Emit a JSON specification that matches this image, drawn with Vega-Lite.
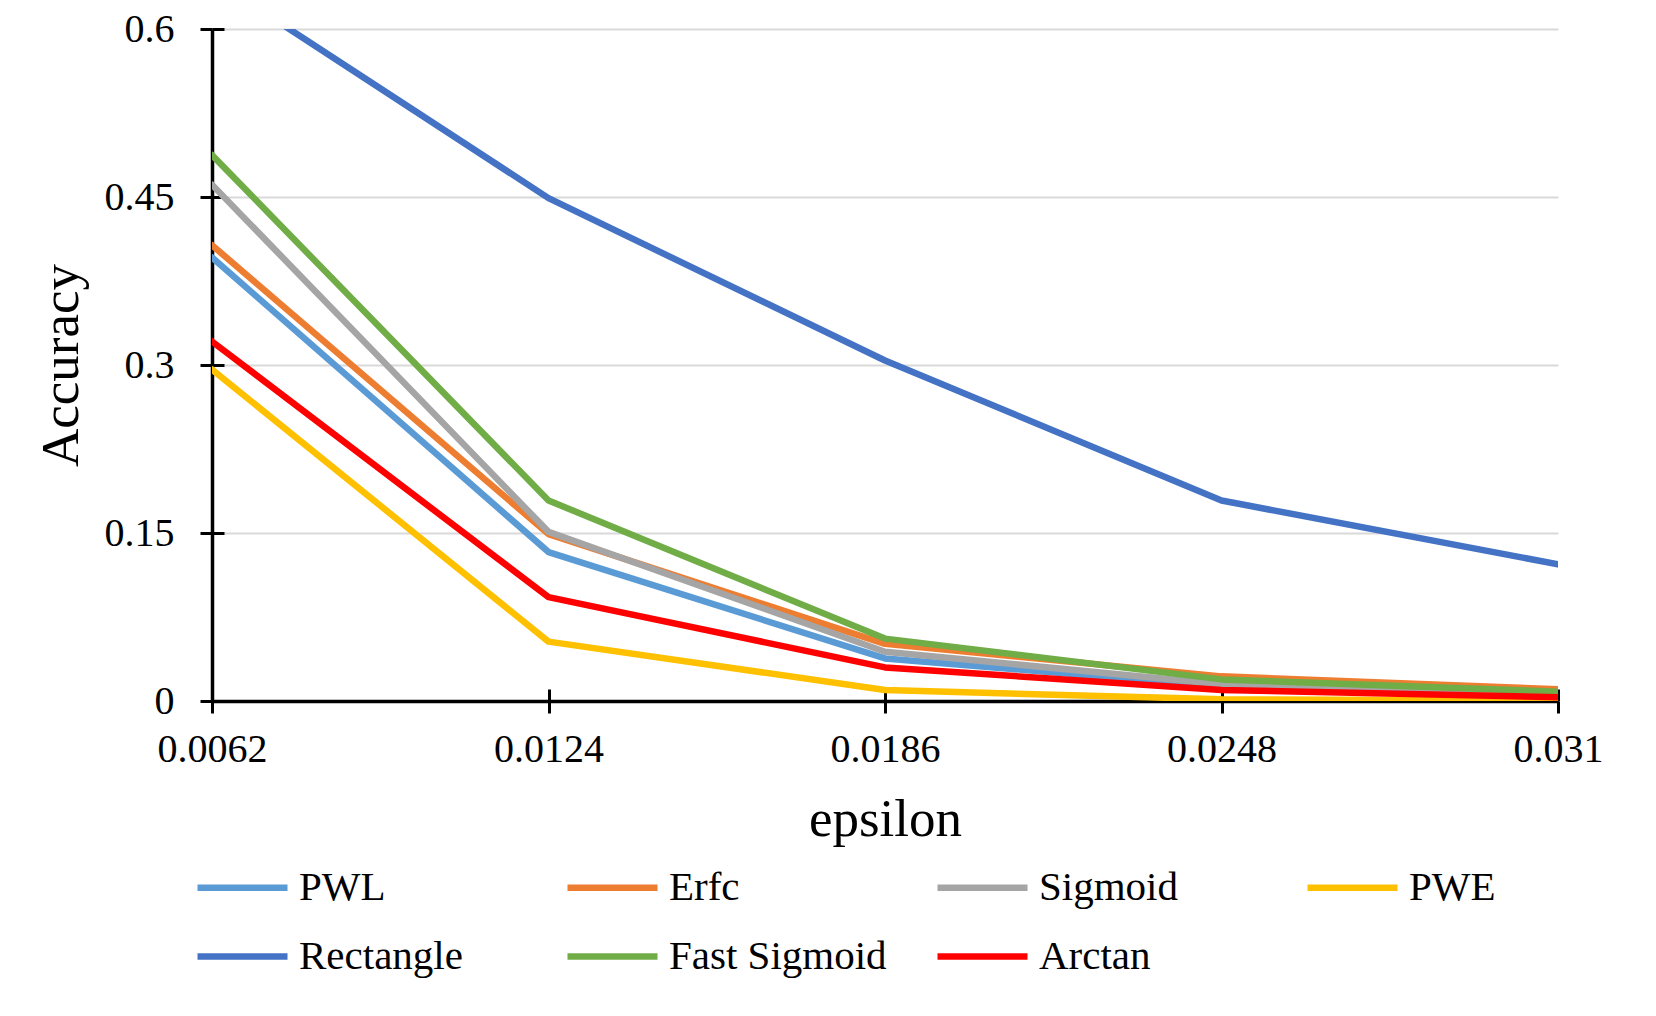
{
  "$schema": "https://vega.github.io/schema/vega-lite/v6.json",
  "width": 1346,
  "height": 672,
  "autosize": "none",
  "padding": {"left": 212, "top": 29, "right": 98, "bottom": 315},
  "background": "white",
  "config": {"font": "Liberation Serif", "view": {"stroke": null}},
  "data": {
    "values": [
      {"epsilon": 0.0062, "series": "PWL", "accuracy": 0.396},
      {"epsilon": 0.0124, "series": "PWL", "accuracy": 0.133},
      {"epsilon": 0.0186, "series": "PWL", "accuracy": 0.038},
      {"epsilon": 0.0248, "series": "PWL", "accuracy": 0.013},
      {"epsilon": 0.031, "series": "PWL", "accuracy": 0.006},
      {"epsilon": 0.0062, "series": "Erfc", "accuracy": 0.407},
      {"epsilon": 0.0124, "series": "Erfc", "accuracy": 0.149},
      {"epsilon": 0.0186, "series": "Erfc", "accuracy": 0.051},
      {"epsilon": 0.0248, "series": "Erfc", "accuracy": 0.022},
      {"epsilon": 0.031, "series": "Erfc", "accuracy": 0.0105},
      {"epsilon": 0.0062, "series": "Sigmoid", "accuracy": 0.461},
      {"epsilon": 0.0124, "series": "Sigmoid", "accuracy": 0.151},
      {"epsilon": 0.0186, "series": "Sigmoid", "accuracy": 0.044},
      {"epsilon": 0.0248, "series": "Sigmoid", "accuracy": 0.015},
      {"epsilon": 0.031, "series": "Sigmoid", "accuracy": 0.007},
      {"epsilon": 0.0062, "series": "PWE", "accuracy": 0.296},
      {"epsilon": 0.0124, "series": "PWE", "accuracy": 0.053},
      {"epsilon": 0.0186, "series": "PWE", "accuracy": 0.0098},
      {"epsilon": 0.0248, "series": "PWE", "accuracy": 0.0015},
      {"epsilon": 0.031, "series": "PWE", "accuracy": 0.0003},
      {"epsilon": 0.0062, "series": "Rectangle", "accuracy": 0.645},
      {"epsilon": 0.0124, "series": "Rectangle", "accuracy": 0.449},
      {"epsilon": 0.0186, "series": "Rectangle", "accuracy": 0.304},
      {"epsilon": 0.0248, "series": "Rectangle", "accuracy": 0.179},
      {"epsilon": 0.031, "series": "Rectangle", "accuracy": 0.122},
      {"epsilon": 0.0062, "series": "Fast Sigmoid", "accuracy": 0.4875},
      {"epsilon": 0.0124, "series": "Fast Sigmoid", "accuracy": 0.179},
      {"epsilon": 0.0186, "series": "Fast Sigmoid", "accuracy": 0.0557},
      {"epsilon": 0.0248, "series": "Fast Sigmoid", "accuracy": 0.0193},
      {"epsilon": 0.031, "series": "Fast Sigmoid", "accuracy": 0.0083},
      {"epsilon": 0.0062, "series": "Arctan", "accuracy": 0.321},
      {"epsilon": 0.0124, "series": "Arctan", "accuracy": 0.0927},
      {"epsilon": 0.0186, "series": "Arctan", "accuracy": 0.030},
      {"epsilon": 0.0248, "series": "Arctan", "accuracy": 0.0098},
      {"epsilon": 0.031, "series": "Arctan", "accuracy": 0.0033}
    ]
  },
  "layer": [
    {
      "mark": {"type": "point", "opacity": 0},
      "encoding": {
        "x": {
          "field": "epsilon", "type": "quantitative",
          "scale": {"domain": [0.0062, 0.031], "nice": false, "zero": false},
          "axis": {
            "orient": "bottom",
            "values": [0.0062, 0.0124, 0.0186, 0.0248, 0.031],
            "tickSize": -12, "tickWidth": 3, "tickColor": "black",
            "labels": false, "domain": false, "grid": false, "title": null
          }
        },
        "y": {
          "field": "accuracy", "type": "quantitative",
          "scale": {"domain": [0, 0.6], "nice": false},
          "axis": {
            "orient": "left",
            "values": [0, 0.15, 0.3, 0.45, 0.6],
            "tickSize": -12, "tickWidth": 3, "tickColor": "black",
            "labels": false, "domain": false, "grid": false, "title": null
          }
        }
      }
    },
    {
      "mark": {"type": "line", "strokeWidth": 6.5, "clip": true, "strokeCap": "round", "strokeJoin": "round"},
      "encoding": {
        "x": {
          "field": "epsilon", "type": "quantitative",
          "scale": {"domain": [0.0062, 0.031], "nice": false, "zero": false},
          "axis": {
            "orient": "bottom",
            "values": [0.0062, 0.0124, 0.0186, 0.0248, 0.031],
            "format": ".3~g",
            "tickSize": 12, "tickWidth": 3, "tickColor": "black",
            "domainColor": "black", "domainWidth": 3.5,
            "labelFontSize": 40, "labelColor": "black", "labelPadding": 16, "labelFlush": false,
            "grid": false,
            "title": "epsilon", "titleFontSize": 53, "titleFontWeight": "normal",
            "titleColor": "black", "titlePadding": 24
          }
        },
        "y": {
          "field": "accuracy", "type": "quantitative",
          "scale": {"domain": [0, 0.6], "nice": false},
          "axis": {
            "orient": "left",
            "values": [0, 0.15, 0.3, 0.45, 0.6],
            "format": ".2~g",
            "tickSize": 12, "tickWidth": 3, "tickColor": "black",
            "domainColor": "black", "domainWidth": 3.5,
            "labelFontSize": 40, "labelColor": "black", "labelPadding": 26,
            "grid": true, "gridColor": "#d9d9d9", "gridWidth": 2,
            "title": "Accuracy", "titleFontSize": 53, "titleFontWeight": "normal",
            "titleColor": "black", "titlePadding": 16
          }
        },
        "color": {
          "field": "series", "type": "nominal",
          "scale": {
            "domain": ["PWL", "Erfc", "Sigmoid", "PWE", "Rectangle", "Fast Sigmoid", "Arctan"],
            "range": ["#5B9BD5", "#ED7D31", "#A5A5A5", "#FFC000", "#4472C4", "#70AD47", "#FF0000"]
          },
          "legend": {
            "orient": "none", "legendX": -18, "legendY": 810,
            "direction": "horizontal", "columns": 4, "gridAlign": "all",
            "symbolType": "stroke", "symbolSize": 8100, "symbolStrokeWidth": 6.5,
            "labelFontSize": 41, "labelColor": "black", "labelOffset": 8, "labelLimit": 400,
            "columnPadding": 37, "rowPadding": -21, "padding": 0, "title": null
          }
        }
      }
    }
  ],
  "resolve": {"axis": {"x": "independent", "y": "independent"}}
}
